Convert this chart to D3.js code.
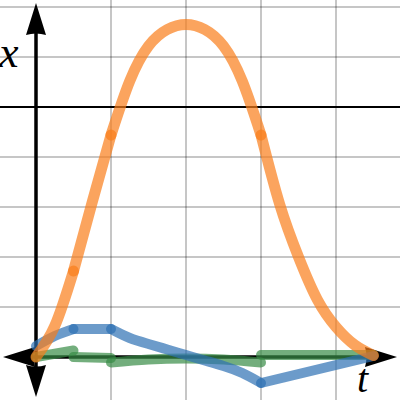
<!DOCTYPE html>
<html><head><meta charset="utf-8">
<script src="https://cdn.jsdelivr.net/npm/d3@7"></script>
<style>html,body{margin:0;padding:0;background:#fff}svg{display:block}</style>
</head><body>
<svg id="chart" width="400" height="400"></svg>
<script>
// ---- data (t, value) ----
const orangePieces = [
  [[0,0],[0.25,0.62],[0.5,1.72]],
  [[0.5,1.72],[0.75,3.1],[1.0,4.44]],
  [[1.0,4.44],[1.25,5.52],[1.5,6.22],[1.75,6.55],[2.0,6.65],[2.25,6.55],[2.5,6.22],[2.75,5.52],[3.0,4.44]],
  [[3.0,4.44],[3.25,3.05],[3.5,2.0],[3.75,1.15],[4.0,0.6],[4.25,0.24],[4.5,0.03]]
];
const bluePieces = [
  [[0,0.22],[0.25,0.42],[0.5,0.56]],
  [[0.5,0.56],[1.0,0.56]],
  [[1.0,0.56],[1.25,0.38],[1.5,0.26],[1.75,0.15],[2.0,0.04],[2.25,-0.07],[2.5,-0.18],[2.75,-0.32],[3.0,-0.52]],
  [[3.0,-0.52],[4.5,0.02]]
];
const greenPieces = [
  [[0,0],[0.5,0.13]],
  [[0.5,0],[1.0,-0.02]],
  [[1.0,-0.11],[1.5,-0.05],[2.0,-0.03],[2.5,-0.05],[3.0,-0.11]],
  [[3.0,0.04],[4.5,0.04]]
];
const tGrid = [1,2,3,4];
const vGrid = [1,2,3,4,6,7];
const refLine = 5;
const xLabel = "t", yLabel = "x";

// ---- scales ----
const W = 400, H = 400;
const x = d3.scaleLinear().domain([-0.48, 4.8533]).range([0, W]);
const y = d3.scaleLinear().domain([-0.86, 7.14]).range([H, 0]);
const svg = d3.select("#chart");

// grid
svg.append("g").selectAll("line").data(tGrid).join("line")
  .attr("x1", d=>x(d)).attr("x2", d=>x(d)).attr("y1",0).attr("y2",H)
  .attr("stroke","rgba(0,0,0,0.3)").attr("stroke-width",1.5);
svg.append("g").selectAll("line").data(vGrid).join("line")
  .attr("y1", d=>y(d)).attr("y2", d=>y(d)).attr("x1",0).attr("x2",W)
  .attr("stroke","rgba(0,0,0,0.3)").attr("stroke-width",1.5);
// reference horizontal line
svg.append("line").attr("x1",0).attr("x2",W).attr("y1",y(refLine)).attr("y2",y(refLine))
  .attr("stroke","#000").attr("stroke-width",2);

// axes
const x0 = x(0), y0 = y(0);
svg.append("line").attr("x1",x0).attr("x2",x0).attr("y1",20).attr("y2",H-20)
  .attr("stroke","#000").attr("stroke-width",3.5);
svg.append("line").attr("x1",20).attr("x2",W-20).attr("y1",y0).attr("y2",y0)
  .attr("stroke","#000").attr("stroke-width",3.5);
const aL = 32, aW = 10;
const arrows = [
  `M${x0},3 L${x0+aW},${3+aL} Q${x0},${aL} ${x0-aW},${3+aL} Z`,
  `M${x0},${H-3} L${x0+aW},${H-3-aL} Q${x0},${H-aL} ${x0-aW},${H-3-aL} Z`,
  `M3,${y0} L${3+aL},${y0-aW} Q${aL},${y0} ${3+aL},${y0+aW} Z`,
  `M${W-3},${y0} L${W-3-aL},${y0-aW} Q${W-aL},${y0} ${W-3-aL},${y0+aW} Z`
];
svg.append("g").selectAll("path").data(arrows).join("path").attr("d",d=>d).attr("fill","#000");

// series
const line = d3.line().x(d=>x(d[0])).y(d=>y(d[1])).curve(d3.curveNatural);
function drawSeries(pieces, color, width){
  svg.append("g").selectAll("path").data(pieces).join("path")
    .attr("d", line).attr("fill","none").attr("stroke",color)
    .attr("stroke-width",width).attr("stroke-linecap","round").attr("stroke-linejoin","round")
    .attr("stroke-opacity",0.7);
}
drawSeries(greenPieces, "#388c46", 10);
drawSeries(bluePieces, "#2d70b3", 10);
drawSeries(orangePieces, "#fa7e19", 11);

// labels
svg.append("text").attr("x", x0-37).attr("y", y(6)+10)
  .attr("font-family","'Liberation Serif','Times New Roman',serif").attr("font-style","italic")
  .attr("font-size",44).text(yLabel);
svg.append("text").attr("x", W-43).attr("y", y0+35)
  .attr("font-family","'Liberation Serif','Times New Roman',serif").attr("font-style","italic")
  .attr("font-size",40).text(xLabel);
</script>
</body></html>
